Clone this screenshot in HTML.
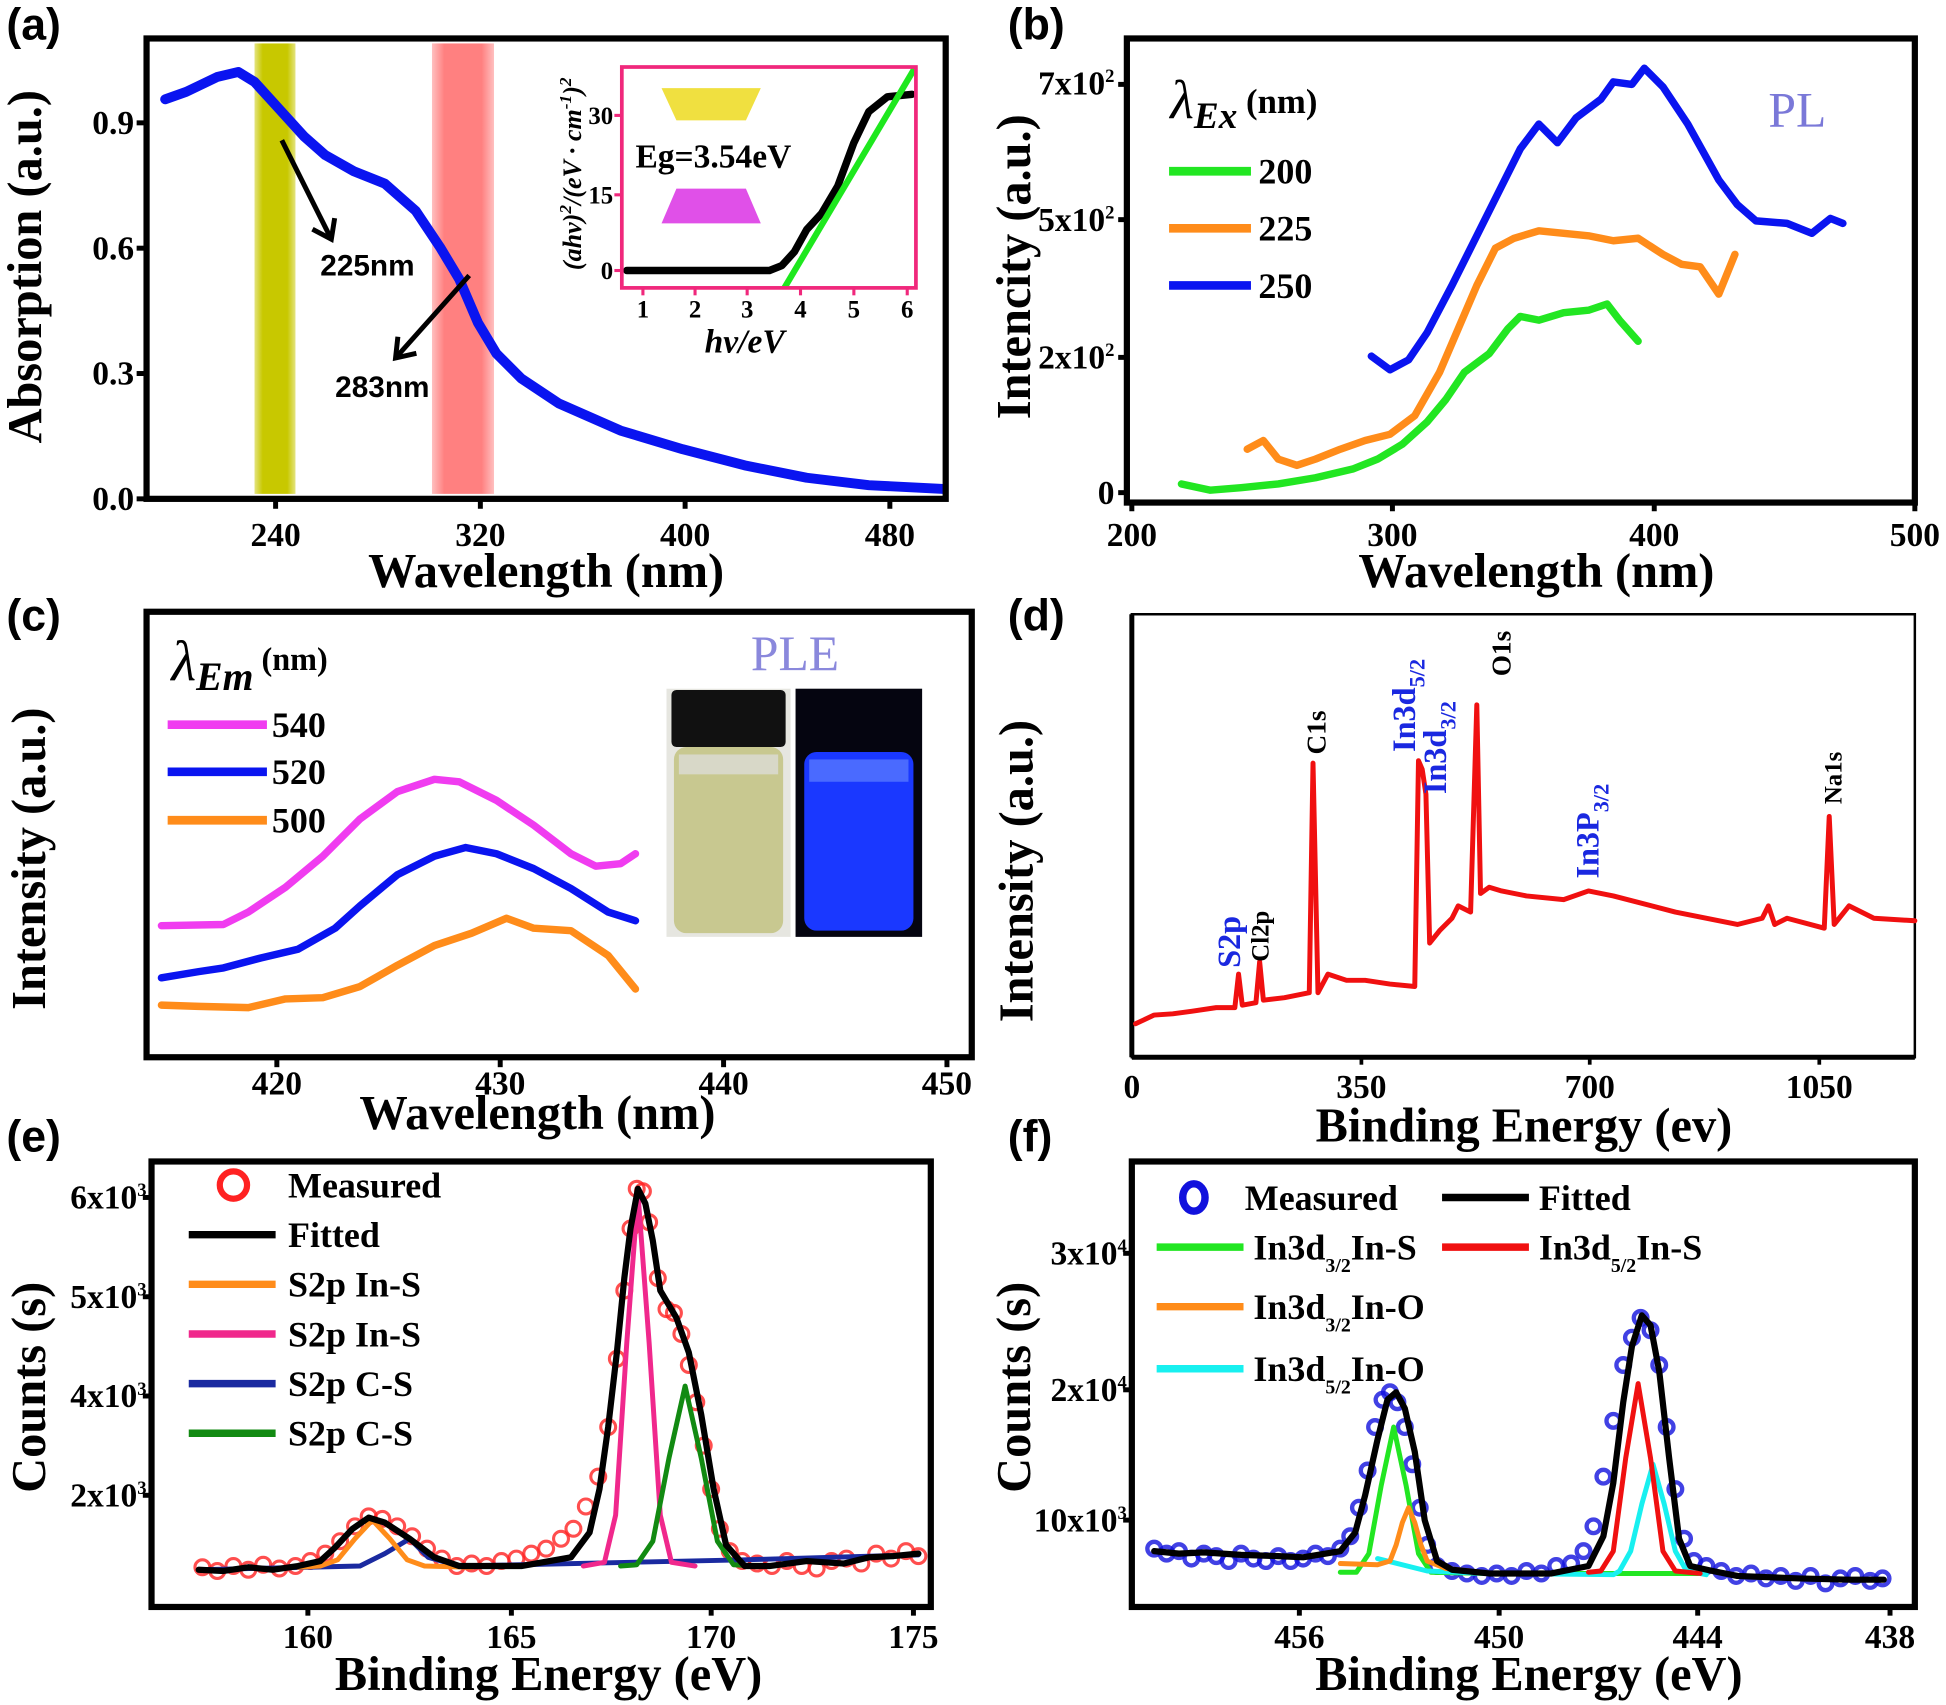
<!DOCTYPE html>
<html><head><meta charset="utf-8"><style>
html,body{margin:0;padding:0;background:#fff}
svg{display:block}
.t{font-family:"Liberation Serif",serif;font-weight:bold;font-size:27px}
.ax{font-family:"Liberation Serif",serif;font-weight:bold;font-size:39px}
.pl{font-family:"Liberation Sans",sans-serif;font-weight:bold;font-size:36px}
.lg{font-family:"Liberation Serif",serif;font-weight:bold;font-size:29px}
.fr{fill:none;stroke:#000;stroke-width:5}
.c{fill:none;stroke-linejoin:round;stroke-linecap:round}
</style></head><body>
<svg width="1946" height="1705" viewBox="0 0 1568 1374" xmlns="http://www.w3.org/2000/svg">
<defs>
<marker id="mr" markerWidth="16" markerHeight="16" refX="8" refY="8" markerUnits="userSpaceOnUse"><circle cx="8" cy="8" r="6" fill="none" stroke="#f22" stroke-width="2.5" opacity="0.8"/></marker>
<marker id="mb" markerWidth="16" markerHeight="16" refX="8" refY="8" markerUnits="userSpaceOnUse"><circle cx="8" cy="8" r="5.5" fill="none" stroke="#11d" stroke-width="3.5" opacity="0.8"/></marker>
<marker id="ah" markerWidth="30" markerHeight="30" refX="15" refY="15" orient="auto" markerUnits="userSpaceOnUse"><path d="M3,5 L17,15 L3,25" fill="none" stroke="#000" stroke-width="4"/></marker>
<linearGradient id="yg" x1="0" x2="1"><stop offset="0" stop-color="#c8c800" stop-opacity="0.5"/><stop offset="0.2" stop-color="#c8c800"/><stop offset="0.8" stop-color="#c8c800"/><stop offset="1" stop-color="#c8c800" stop-opacity="0.5"/></linearGradient>
<linearGradient id="rg" x1="0" x2="1"><stop offset="0" stop-color="#ff8080" stop-opacity="0.5"/><stop offset="0.2" stop-color="#ff8080"/><stop offset="0.8" stop-color="#ff8080"/><stop offset="1" stop-color="#ff8080" stop-opacity="0.5"/></linearGradient>
</defs>

<!-- ===== Panel a ===== -->
<text class="pl" x="5" y="32">(a)</text>
<rect x="205" y="35" width="33" height="363" fill="url(#yg)"/>
<rect x="348" y="35" width="50" height="363" fill="url(#rg)"/>
<polyline class="c" stroke="#0a14f0" stroke-width="8" points="133,80 150,74 175,62 192,58 205,66 225,88 245,110 262,125 285,138 310,148 335,170 355,200 370,225 385,260 400,285 420,305 450,325 500,347 550,362 600,375 650,385 700,391 760,394"/>
<rect class="fr" x="118" y="31" width="644" height="371"/>
<g stroke="#000" stroke-width="4"><line x1="222" y1="402" x2="222" y2="410"/><line x1="387" y1="402" x2="387" y2="410"/><line x1="552" y1="402" x2="552" y2="410"/><line x1="717" y1="402" x2="717" y2="410"/>
<line x1="110" y1="99" x2="118" y2="99"/><line x1="110" y1="200" x2="118" y2="200"/><line x1="110" y1="301" x2="118" y2="301"/><line x1="110" y1="402" x2="118" y2="402"/></g>
<g class="t" text-anchor="middle"><text x="222" y="440">240</text><text x="387" y="440">320</text><text x="552" y="440">400</text><text x="717" y="440">480</text></g>
<g class="t" text-anchor="end"><text x="108" y="108">0.9</text><text x="108" y="209">0.6</text><text x="108" y="310">0.3</text><text x="108" y="411">0.0</text></g>
<text class="ax" text-anchor="middle" x="440" y="473">Wavelength (nm)</text>
<text class="ax" text-anchor="middle" transform="translate(33,215) rotate(-90)">Absorption (a.u.)</text>
<line x1="227" y1="113" x2="266" y2="191" stroke="#000" stroke-width="4" marker-end="url(#ah)"/>
<line x1="378" y1="222" x2="320" y2="287" stroke="#000" stroke-width="4" marker-end="url(#ah)"/>
<text x="258" y="222" font-family="Liberation Sans Narrow, Liberation Sans, sans-serif" font-weight="bold" font-size="24">225nm</text>
<text x="270" y="320" font-family="Liberation Sans Narrow, Liberation Sans, sans-serif" font-weight="bold" font-size="24">283nm</text>
<!-- inset -->
<polygon points="533,71 613,71 601,97 545,97" fill="#f0e040"/>
<polygon points="545,152 601,152 613,180 533,180" fill="#e050e8"/>
<text x="512" y="135" font-family="Liberation Serif,serif" font-weight="bold" font-size="27">Eg=3.54eV</text>
<polyline class="c" stroke="#000" stroke-width="6" points="505,218 620,218 630,214 640,203 650,185 662,172 675,150 688,115 700,90 715,78 735,76"/>
<line x1="632" y1="232" x2="737" y2="55" stroke="#1ee81e" stroke-width="5"/>
<rect x="501" y="54" width="237" height="178" fill="none" stroke="#f0287c" stroke-width="3"/>
<g stroke="#f0287c" stroke-width="2.5"><line x1="518" y1="232" x2="518" y2="238"/><line x1="560" y1="232" x2="560" y2="238"/><line x1="602" y1="232" x2="602" y2="238"/><line x1="645" y1="232" x2="645" y2="238"/><line x1="688" y1="232" x2="688" y2="238"/><line x1="731" y1="232" x2="731" y2="238"/><line x1="495" y1="93" x2="501" y2="93"/><line x1="495" y1="157" x2="501" y2="157"/><line x1="495" y1="218" x2="501" y2="218"/></g>
<g font-family="Liberation Serif,serif" font-weight="bold" font-size="20" text-anchor="middle"><text x="518" y="256">1</text><text x="560" y="256">2</text><text x="602" y="256">3</text><text x="645" y="256">4</text><text x="688" y="256">5</text><text x="731" y="256">6</text></g>
<g font-family="Liberation Serif,serif" font-weight="bold" font-size="20" text-anchor="end"><text x="494" y="100">30</text><text x="494" y="164">15</text><text x="494" y="225">0</text></g>
<text font-family="Liberation Serif,serif" font-style="italic" font-weight="bold" font-size="21" text-anchor="middle" transform="translate(468,140) rotate(-90)">(ahv)<tspan dy="-8" font-size="14">2</tspan><tspan dy="8">/(eV · cm</tspan><tspan dy="-8" font-size="14">-1</tspan><tspan dy="8">)</tspan><tspan dy="-8" font-size="14">2</tspan></text>
<text x="600" y="284" text-anchor="middle" font-family="Liberation Serif,serif" font-style="italic" font-weight="bold" font-size="27">hv/eV</text>

<!-- ===== Panel b ===== -->
<text class="pl" x="812" y="32">(b)</text>
<rect class="fr" x="908" y="31" width="635" height="374"/>
<g stroke="#000" stroke-width="4"><line x1="912" y1="405" x2="912" y2="412"/><line x1="1122" y1="405" x2="1122" y2="412"/><line x1="1333" y1="405" x2="1333" y2="412"/><line x1="1543" y1="405" x2="1543" y2="412"/>
<line x1="901" y1="68" x2="908" y2="68"/><line x1="901" y1="177" x2="908" y2="177"/><line x1="901" y1="288" x2="908" y2="288"/><line x1="901" y1="397" x2="908" y2="397"/></g>
<g class="t" text-anchor="middle"><text x="912" y="440">200</text><text x="1122" y="440">300</text><text x="1333" y="440">400</text><text x="1543" y="440">500</text></g>
<g class="t" text-anchor="end" font-size="24"><text x="898" y="76">7x10<tspan dy="-10" font-size="15">2</tspan></text><text x="898" y="186">5x10<tspan dy="-10" font-size="15">2</tspan></text><text x="898" y="297">2x10<tspan dy="-10" font-size="15">2</tspan></text><text x="898" y="406">0</text></g>
<text class="ax" text-anchor="middle" x="1238" y="473">Wavelength (nm)</text>
<text class="ax" text-anchor="middle" transform="translate(830,215) rotate(-90)">Intencity (a.u.)</text>
<text x="943" y="95" font-family="Liberation Serif,serif" font-style="italic" font-size="44">λ<tspan font-size="30" dy="8" font-weight="bold">Ex</tspan><tspan font-style="normal" font-weight="bold" font-size="28" dy="-12"> (nm)</tspan></text>
<line x1="942" y1="138" x2="1008" y2="138" stroke="#22e622" stroke-width="7"/><line x1="942" y1="184" x2="1008" y2="184" stroke="#ff8c1a" stroke-width="7"/><line x1="942" y1="230" x2="1008" y2="230" stroke="#0a14f0" stroke-width="7"/>
<g class="lg"><text x="1014" y="148">200</text><text x="1014" y="194">225</text><text x="1014" y="240">250</text></g>
<text x="1425" y="102" font-family="Liberation Serif,serif" font-size="40" fill="#7a78d8">PL</text>
<polyline class="c" stroke="#22e622" stroke-width="6" points="952,390 975,395 1000,393 1030,390 1060,385 1090,378 1110,370 1130,358 1150,340 1165,322 1180,300 1200,285 1215,265 1225,255 1240,258 1260,252 1280,250 1295,245 1305,258 1320,275"/>
<polyline class="c" stroke="#ff8c1a" stroke-width="6" points="1005,362 1018,355 1030,370 1045,375 1060,370 1080,362 1100,355 1120,350 1140,335 1160,300 1175,265 1190,230 1205,200 1220,192 1240,186 1260,188 1280,190 1300,194 1320,192 1340,205 1355,213 1370,215 1385,237 1398,205"/>
<polyline class="c" stroke="#0a14f0" stroke-width="6" points="1105,287 1120,298 1135,290 1150,268 1170,230 1190,190 1210,150 1225,120 1240,100 1255,115 1270,95 1290,80 1300,66 1315,68 1325,55 1340,70 1360,100 1385,145 1400,165 1415,178 1440,180 1460,188 1475,176 1485,180"/>

<!-- ===== Panel c ===== -->
<text class="pl" x="5" y="508">(c)</text>
<rect class="fr" x="118" y="493" width="665" height="359"/>
<g stroke="#000" stroke-width="4"><line x1="223" y1="852" x2="223" y2="860"/><line x1="403" y1="852" x2="403" y2="860"/><line x1="583" y1="852" x2="583" y2="860"/><line x1="763" y1="852" x2="763" y2="860"/></g>
<g class="t" text-anchor="middle"><text x="223" y="882">420</text><text x="403" y="882">430</text><text x="583" y="882">440</text><text x="763" y="882">450</text></g>
<text class="ax" text-anchor="middle" x="433" y="910">Wavelength (nm)</text>
<text class="ax" text-anchor="middle" transform="translate(36,692) rotate(-90)">Intensity (a.u.)</text>
<text x="138" y="548" font-family="Liberation Serif,serif" font-style="italic" font-size="46">λ<tspan font-size="32" dy="8" font-weight="bold">Em</tspan><tspan font-style="normal" font-weight="bold" font-size="26" dy="-16"> (nm)</tspan></text>
<line x1="135" y1="584" x2="215" y2="584" stroke="#f03cf0" stroke-width="7"/><line x1="135" y1="622" x2="215" y2="622" stroke="#0a14f0" stroke-width="7"/><line x1="135" y1="661" x2="215" y2="661" stroke="#ff8c1a" stroke-width="7"/>
<g class="lg"><text x="219" y="594">540</text><text x="219" y="632">520</text><text x="219" y="671">500</text></g>
<text x="605" y="540" font-family="Liberation Serif,serif" font-size="40" fill="#8a88dc">PLE</text>
<rect x="537" y="555" width="100" height="200" fill="#e6e6e0"/>
<rect x="541" y="556" width="92" height="46" rx="4" fill="#111"/>
<rect x="543" y="602" width="88" height="150" rx="10" fill="#c8c890"/>
<rect x="547" y="608" width="80" height="16" fill="#d8d8c8"/>
<rect x="641" y="555" width="102" height="200" fill="#050510"/>
<rect x="648" y="606" width="88" height="144" rx="10" fill="#1a38ff"/>
<rect x="652" y="612" width="80" height="18" fill="#4a6aff"/>
<polyline class="c" stroke="#f03cf0" stroke-width="6" points="130,746 180,745 200,735 230,715 260,690 290,660 320,638 350,628 370,630 400,645 430,665 460,688 480,698 500,696 512,688"/>
<polyline class="c" stroke="#0a14f0" stroke-width="6" points="130,788 160,783 180,780 210,772 240,765 270,748 290,730 320,705 350,690 375,683 400,688 430,700 460,716 490,735 512,742"/>
<polyline class="c" stroke="#ff8c1a" stroke-width="6" points="130,810 160,811 200,812 230,805 260,804 290,795 320,778 350,762 380,752 408,740 430,748 460,750 490,770 512,797"/>

<!-- ===== Panel d ===== -->
<text class="pl" x="812" y="508">(d)</text>
<rect x="912" y="495" width="631" height="357" fill="none" stroke="#000" stroke-width="2"/>
<line x1="912" y1="495" x2="912" y2="852" stroke="#000" stroke-width="4"/><line x1="912" y1="852" x2="1543" y2="852" stroke="#000" stroke-width="4"/>
<g stroke="#000" stroke-width="3"><line x1="1097" y1="852" x2="1097" y2="858"/><line x1="1281" y1="852" x2="1281" y2="858"/><line x1="1466" y1="852" x2="1466" y2="858"/></g>
<g class="t" text-anchor="middle"><text x="912" y="885">0</text><text x="1097" y="885">350</text><text x="1281" y="885">700</text><text x="1466" y="885">1050</text></g>
<text class="ax" text-anchor="middle" x="1228" y="920">Binding Energy (ev)</text>
<text class="ax" text-anchor="middle" transform="translate(832,702) rotate(-90)">Intensity (a.u.)</text>
<polyline class="c" stroke="#f01010" stroke-width="4" points="915,825 930,818 945,817 960,815 980,812 995,812 998,785 1001,810 1012,808 1015,775 1018,806 1035,804 1055,800 1058,615 1062,800 1070,785 1085,790 1100,790 1120,793 1140,795 1143,613 1146,620 1149,640 1152,760 1160,750 1170,740 1175,730 1185,735 1190,568 1193,720 1200,715 1210,718 1230,722 1260,725 1280,718 1300,722 1350,735 1400,745 1420,740 1425,730 1430,745 1440,740 1470,748 1474,658 1478,745 1490,730 1510,740 1543,742"/>
<g font-family="Liberation Serif,serif" font-weight="bold" font-size="26">
<text transform="translate(999,780) rotate(-90)" fill="#1a28e0">S2p</text>
<text transform="translate(1022,775) rotate(-90)" font-size="20">Cl2p</text>
<text transform="translate(1068,608) rotate(-90)" font-size="22">C1s</text>
<text transform="translate(1140,606) rotate(-90)" fill="#1a28e0">In3d<tspan font-size="18" dy="8">5/2</tspan></text>
<text transform="translate(1165,640) rotate(-90)" fill="#1a28e0">In3d<tspan font-size="18" dy="8">3/2</tspan></text>
<text transform="translate(1217,545) rotate(-90)" font-size="22">O1s</text>
<text transform="translate(1288,708) rotate(-90)" fill="#1a28e0">In3P<tspan font-size="18" dy="8">3/2</tspan></text>
<text transform="translate(1484,648) rotate(-90)" font-size="20">Na1s</text>
</g>

<!-- ===== Panel e ===== -->
<text class="pl" x="5" y="928">(e)</text>
<rect class="fr" x="122" y="936" width="628" height="359"/>
<g stroke="#000" stroke-width="4"><line x1="248" y1="1295" x2="248" y2="1302"/><line x1="412" y1="1295" x2="412" y2="1302"/><line x1="573" y1="1295" x2="573" y2="1302"/><line x1="736" y1="1295" x2="736" y2="1302"/>
<line x1="115" y1="965" x2="122" y2="965"/><line x1="115" y1="1045" x2="122" y2="1045"/><line x1="115" y1="1125" x2="122" y2="1125"/><line x1="115" y1="1205" x2="122" y2="1205"/></g>
<g class="t" text-anchor="middle"><text x="248" y="1328">160</text><text x="412" y="1328">165</text><text x="573" y="1328">170</text><text x="736" y="1328">175</text></g>
<g class="t" text-anchor="end" font-size="24"><text x="118" y="974">6x10<tspan dy="-10" font-size="15">3</tspan></text><text x="118" y="1054">5x10<tspan dy="-10" font-size="15">3</tspan></text><text x="118" y="1134">4x10<tspan dy="-10" font-size="15">3</tspan></text><text x="118" y="1214">2x10<tspan dy="-10" font-size="15">3</tspan></text></g>
<text class="ax" text-anchor="middle" x="442" y="1362">Binding Energy (eV)</text>
<text class="ax" text-anchor="middle" transform="translate(36,1118) rotate(-90)">Counts (s)</text>
<circle cx="188" cy="955" r="11" fill="none" stroke="#f22" stroke-width="5"/>
<line x1="152" y1="995" x2="222" y2="995" stroke="#000" stroke-width="6"/><line x1="152" y1="1035" x2="222" y2="1035" stroke="#ff8c1a" stroke-width="6"/><line x1="152" y1="1075" x2="222" y2="1075" stroke="#f0288c" stroke-width="6"/><line x1="152" y1="1115" x2="222" y2="1115" stroke="#1a2aa0" stroke-width="6"/><line x1="152" y1="1155" x2="222" y2="1155" stroke="#128a12" stroke-width="6"/>
<g class="lg" font-size="28"><text x="232" y="965">Measured</text><text x="232" y="1005">Fitted</text><text x="232" y="1045">S2p  In-S</text><text x="232" y="1085">S2p  In-S</text><text x="232" y="1125">S2p  C-S</text><text x="232" y="1165">S2p  C-S</text></g>
<polyline fill="none" stroke="none" marker-start="url(#mr)" marker-mid="url(#mr)" marker-end="url(#mr)" points="163,1263 175,1266 188,1262 200,1265 212,1261 225,1264 238,1262 250,1258 262,1252 274,1242 286,1230 297,1222 308,1224 320,1230 332,1238 344,1248 356,1256 368,1262 380,1260 392,1262 404,1258 416,1256 428,1252 440,1248 452,1240 462,1232 472,1214 482,1190 490,1150 497,1095 503,1040 508,990 513,958 518,960 523,985 530,1030 537,1055 543,1058 549,1075 555,1100 561,1130 567,1165 573,1200 580,1232 588,1250 598,1258 610,1260 622,1262 634,1258 646,1262 658,1264 670,1258 682,1256 694,1260 706,1252 718,1256 730,1250 740,1254"/>
<polyline class="c" stroke="#1a2aa0" stroke-width="4" points="160,1265 290,1262 310,1252 330,1240 345,1255 370,1262 600,1257 740,1253"/>
<polyline class="c" stroke="#ff8c1a" stroke-width="4" points="240,1263 258,1262 272,1257 286,1240 300,1225 314,1240 328,1257 342,1262 380,1263"/>
<polyline class="c" stroke="#f0288c" stroke-width="4" points="470,1262 487,1259 496,1221 505,1082 514,962 523,1082 532,1221 541,1259 560,1262"/>
<polyline class="c" stroke="#128a12" stroke-width="4" points="500,1262 513,1261 526,1242 539,1175 552,1117 565,1175 578,1242 591,1261 610,1262"/>
<polyline class="c" stroke="#000" stroke-width="5" points="160,1265 180,1266 200,1263 220,1265 240,1262 258,1258 270,1247 284,1232 297,1223 310,1227 330,1240 350,1255 370,1262 420,1262 460,1255 475,1235 483,1200 490,1150 497,1090 503,1030 508,990 514,958 520,970 526,1000 532,1040 545,1062 555,1090 565,1140 575,1200 585,1245 600,1262 620,1262 650,1258 680,1260 700,1255 720,1254 740,1252"/>

<!-- ===== Panel f ===== -->
<text class="pl" x="812" y="928">(f)</text>
<rect class="fr" x="912" y="936" width="631" height="359"/>
<g stroke="#000" stroke-width="4"><line x1="1047" y1="1295" x2="1047" y2="1302"/><line x1="1208" y1="1295" x2="1208" y2="1302"/><line x1="1368" y1="1295" x2="1368" y2="1302"/><line x1="1523" y1="1295" x2="1523" y2="1302"/>
<line x1="905" y1="1010" x2="912" y2="1010"/><line x1="905" y1="1120" x2="912" y2="1120"/><line x1="905" y1="1225" x2="912" y2="1225"/></g>
<g class="t" text-anchor="middle"><text x="1047" y="1328">456</text><text x="1208" y="1328">450</text><text x="1368" y="1328">444</text><text x="1523" y="1328">438</text></g>
<g class="t" text-anchor="end" font-size="24"><text x="908" y="1019">3x10<tspan dy="-10" font-size="15">4</tspan></text><text x="908" y="1129">2x10<tspan dy="-10" font-size="15">4</tspan></text><text x="908" y="1234">10x10<tspan dy="-10" font-size="15">3</tspan></text></g>
<text class="ax" text-anchor="middle" x="1232" y="1362">Binding Energy (eV)</text>
<text class="ax" text-anchor="middle" transform="translate(830,1118) rotate(-90)">Counts (s)</text>
<ellipse cx="962" cy="965" rx="9" ry="11" fill="none" stroke="#11d" stroke-width="6"/>
<line x1="1162" y1="965" x2="1232" y2="965" stroke="#000" stroke-width="6"/>
<line x1="932" y1="1005" x2="1002" y2="1005" stroke="#22e622" stroke-width="6"/><line x1="1162" y1="1005" x2="1232" y2="1005" stroke="#f01010" stroke-width="6"/><line x1="932" y1="1053" x2="1002" y2="1053" stroke="#ff8c1a" stroke-width="6"/><line x1="932" y1="1103" x2="1002" y2="1103" stroke="#18f0f0" stroke-width="6"/>
<g class="lg" font-size="28"><text x="1003" y="975">Measured</text><text x="1240" y="975">Fitted</text>
<text x="1010" y="1015">In3d<tspan font-size="16" dy="10">3/2</tspan><tspan dy="-10">In-S</tspan></text>
<text x="1240" y="1015">In3d<tspan font-size="16" dy="10">5/2</tspan><tspan dy="-10">In-S</tspan></text>
<text x="1010" y="1063">In3d<tspan font-size="16" dy="10">3/2</tspan><tspan dy="-10">In-O</tspan></text>
<text x="1010" y="1113">In3d<tspan font-size="16" dy="10">5/2</tspan><tspan dy="-10">In-O</tspan></text></g>
<polyline fill="none" stroke="none" marker-start="url(#mb)" marker-mid="url(#mb)" marker-end="url(#mb)" points="930,1248 940,1252 950,1250 960,1256 970,1252 980,1254 990,1258 1000,1252 1010,1256 1020,1258 1030,1254 1040,1258 1050,1256 1060,1252 1070,1254 1080,1248 1088,1238 1095,1215 1102,1185 1108,1150 1114,1128 1120,1122 1126,1130 1132,1150 1138,1180 1144,1215 1150,1245 1158,1262 1170,1266 1182,1268 1194,1270 1206,1268 1218,1270 1230,1266 1242,1268 1254,1262 1266,1260 1276,1250 1284,1230 1292,1190 1300,1145 1308,1100 1315,1078 1322,1062 1330,1072 1337,1100 1343,1150 1350,1200 1357,1240 1365,1258 1375,1262 1387,1266 1399,1270 1411,1268 1423,1272 1435,1270 1447,1274 1459,1270 1471,1276 1483,1272 1495,1270 1507,1274 1517,1272"/>
<polyline class="c" stroke="#22e622" stroke-width="4" points="1080,1267 1093,1267 1103,1252 1113,1197 1123,1150 1133,1197 1143,1252 1153,1267 1200,1268 1370,1268"/>
<polyline class="c" stroke="#18f0f0" stroke-width="4" points="1110,1256 1150,1266 1200,1268 1300,1269 1305,1266 1314,1250 1323,1212 1332,1180 1341,1212 1350,1250 1359,1266 1375,1269"/>
<polyline class="c" stroke="#ff8c1a" stroke-width="4" points="1080,1260 1110,1261 1120,1258 1125,1245 1130,1227 1135,1215 1140,1227 1145,1245 1150,1258 1165,1264 1185,1266"/>
<polyline class="c" stroke="#f01010" stroke-width="4" points="1280,1267 1290,1266 1300,1250 1310,1175 1320,1115 1330,1175 1340,1250 1350,1266 1370,1268"/>
<polyline class="c" stroke="#000" stroke-width="5" points="930,1250 950,1252 970,1251 1000,1253 1030,1254 1050,1255 1080,1250 1092,1235 1100,1205 1110,1160 1118,1128 1125,1122 1132,1135 1140,1170 1148,1225 1158,1258 1170,1265 1200,1268 1250,1268 1280,1262 1292,1238 1300,1195 1308,1130 1315,1085 1323,1060 1330,1068 1337,1105 1345,1175 1353,1240 1362,1262 1380,1266 1400,1270 1450,1272 1490,1273 1518,1273"/>
</svg>
</body></html>
